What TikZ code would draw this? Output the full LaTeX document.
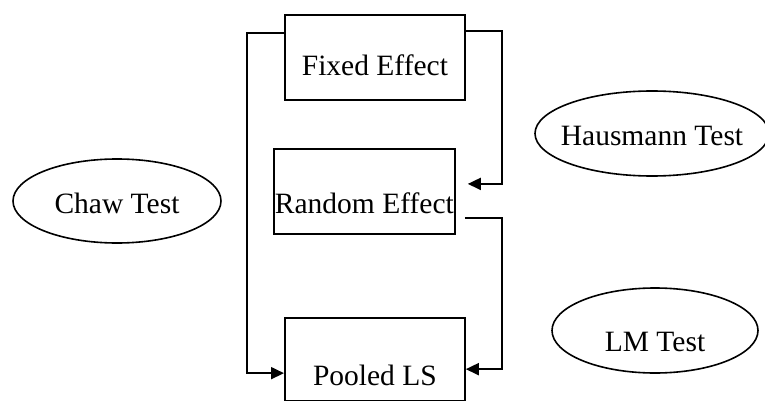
\documentclass[tikz,border=0pt]{standalone}
\usepackage{fontspec}
\setmainfont{Liberation Serif}
\usetikzlibrary{arrows.meta,shapes.geometric,calc}

\tikzset{
  modelbox/.style={draw, line width=1.8pt, inner sep=0pt, anchor=north west,
    minimum width=180pt},
  testoval/.style={draw, ellipse, line width=1.6pt, inner sep=0pt,
    text depth=0pt},
  link/.style={line width=1.8pt, -{Triangle[length=13pt,width=12pt]}},
}

\begin{document}
\begin{tikzpicture}[x=1pt, y=-1pt, font=\fontsize{29.5}{34}\selectfont]
  \useasboundingbox (0,0) rectangle (765,401);

  % model boxes
  \node[modelbox, text height=61pt, text depth=24pt] (fe) at (284,14) {Fixed Effect};
  \node[modelbox, minimum width=181pt, text height=65pt, text depth=20pt] (re) at (273,148) {Random Effect};
  \node[modelbox, text height=68pt, text depth=14.5pt] (pl) at (284,317) {Pooled LS};

  % test ovals
  \node[testoval, minimum width=208pt, minimum height=84pt, text height=24pt] (chaw) at (117,201) {Chaw Test};
  \node[testoval, minimum width=234pt, minimum height=85pt, text height=23pt, inner xsep=-12pt] (haus) at (652,133.5) {Hausmann Test};
  \node[testoval, minimum width=206pt, minimum height=85pt, text height=41pt] (lm) at (655,330.5) {LM Test};

  % connectors between the models
  \draw[link] ([yshift=-19pt]fe.north west) -- ++(-37,0) |- ([yshift=-14pt]pl.west);
  \draw[link, shorten >=12pt] ([yshift=-17pt]fe.north east) -- ++(36,0) |- ([yshift=7.5pt]re.east);
  \draw[link, shorten <=9pt] ([yshift=-26.5pt]re.east) -- ++(46,0) |- ([yshift=-10pt]pl.east);
\end{tikzpicture}
\end{document}
